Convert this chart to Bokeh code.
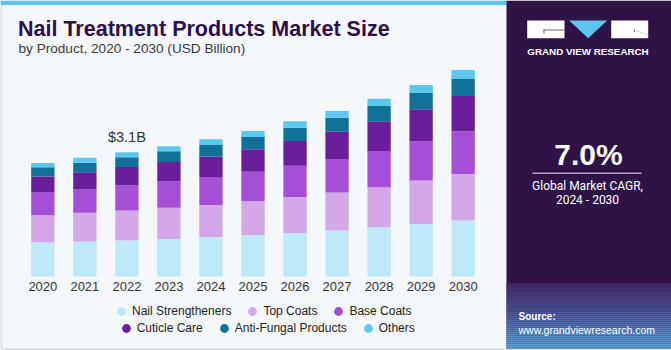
from bokeh.plotting import figure
from bokeh.models import (ColumnDataSource, Range1d, FixedTicker, BoxAnnotation, Label,
                          PolyAnnotation, Legend, LegendItem)
from bokeh.embed import file_html
from bokeh.resources import INLINE

# ---------------- data ----------------
years = [2020, 2021, 2022, 2023, 2024, 2025, 2026, 2027, 2028, 2029, 2030]
year_labels = [str(y) for y in years]
series_names = ["Nail Strengtheners", "Top Coats", "Base Coats",
                "Cuticle Care", "Anti-Fungal Products", "Others"]
nail_strengtheners = [0.85, 0.875, 0.90, 0.94, 0.99, 1.04, 1.09, 1.15, 1.23, 1.31, 1.40]
top_coats = [0.68, 0.72, 0.75, 0.78, 0.80, 0.84, 0.90, 0.95, 1.00, 1.09, 1.16]
base_coats = [0.57, 0.58, 0.63, 0.66, 0.70, 0.74, 0.78, 0.84, 0.91, 0.98, 1.07]
cuticle_care = [0.40, 0.43, 0.46, 0.48, 0.51, 0.56, 0.62, 0.68, 0.74, 0.80, 0.88]
anti_fungal = [0.23, 0.24, 0.24, 0.27, 0.29, 0.31, 0.33, 0.35, 0.38, 0.42, 0.44]
others = [0.11, 0.125, 0.125, 0.125, 0.14, 0.15, 0.16, 0.165, 0.185, 0.19, 0.21]
series_values = [nail_strengtheners, top_coats, base_coats, cuticle_care, anti_fungal, others]
colors = ["#bde9f9", "#d4a8e8", "#a44fd6", "#6a1e9c", "#117299", "#5bc8f0"]
highlight_year_index = 2

# ---------------- geometry helpers (pixel -> data) ----------------
W, H = 671, 350
PXU = 42.03     # pixels per year
PYU = 40.0      # pixels per USD billion
BASE = 276.0    # pixel row of the zero line
X0 = years[0] - 42.35 / PXU


def X(px):
    return X0 + px / PXU


def Y(py):
    return (BASE - py) / PYU


keys = ["s%d" % i for i in range(len(series_names))]
data = {"year": years}
cum = [0.0] * len(years)
for k, vals in zip(keys, series_values):
    data[k] = vals
    cum = [c + v for c, v in zip(cum, vals)]
    data[k + "_top"] = list(cum)
totals = cum
src = ColumnDataSource(data)

p = figure(width=W, height=H, x_range=Range1d(X(0), X(W)), y_range=Range1d(Y(H), Y(0)),
           output_backend="svg", toolbar_location=None, y_axis_location=None,
           min_border=0, min_border_left=0, min_border_right=0,
           min_border_top=0, min_border_bottom=0, outline_line_color=None,
           background_fill_color="#f4f7fb", border_fill_color="#f4f7fb")
p.grid.visible = False

# ---------------- background decorations ----------------
def box(l, r, t, b, color, alpha=1.0):
    p.add_layout(BoxAnnotation(left=X(l), right=X(r), top=Y(t), bottom=Y(b),
                               fill_color=color, fill_alpha=alpha, line_color=None))

box(0, 506, 0, 4.5, "#5cc3ea")           # top accent bar
box(0, 1.2, 4.5, 348, "#d3d8de")          # left border
box(0, 671, 348, 350, "#d9dde2")          # bottom border
box(506, 671, 0, 348, "#2f1346")          # right panel

# gradient at bottom of right panel
stops = [(283, (66, 44, 104)), (310, (76, 84, 150)), (348, (92, 172, 226))]
yy = 283
while yy < 348:
    for (a, ca), (b, cb) in zip(stops[:-1], stops[1:]):
        if a <= yy < b:
            t = (yy - a) / (b - a)
            c = tuple(int(round(ca[i] + (cb[i] - ca[i]) * t)) for i in range(3))
    box(506, 671, yy, min(yy + 2, 348), "#%02x%02x%02x" % c)
    yy += 2

# logo
box(526.7, 564, 20, 37.7, "#ffffff")
box(610.7, 647.7, 20, 37.7, "#ffffff")
p.add_layout(PolyAnnotation(xs=[X(568.7), X(606.7), X(587.7)], ys=[Y(20), Y(20), Y(37.7)],
                            fill_color="#5bc4ef", fill_alpha=1, line_color=None))
box(543, 564, 29, 30, "#6b6b6b")
box(543, 544, 29, 33, "#6b6b6b")
box(633.5, 634.5, 29, 31.5, "#6b6b6b")
p.add_layout(PolyAnnotation(xs=[X(634), X(647.7)], ys=[Y(29.5), Y(34.5)],
                            fill_alpha=0, line_color="#6b6b6b", line_width=1))
box(532, 641, 172, 173.5, "#b7a0d4")      # CAGR rule

# ---------------- bars ----------------
p.vbar_stack(keys, x="year", width=0.555, source=src, fill_color=colors, line_color=None)

legend_renderers = []
for k, c in zip(keys, colors):
    r = p.scatter(x="year", y=k + "_top", source=src, size=0, marker="circle",
                  fill_color=c, line_color=None)
    legend_renderers.append(r)

# axis at zero line
ax = p.xaxis[0]
ax.fixed_location = 0
ax.ticker = FixedTicker(ticks=years)
ax.major_label_overrides = {y: lbl for y, lbl in zip(years, year_labels)}
ax.axis_line_color = None
ax.major_tick_line_color = None
ax.minor_tick_line_color = None
ax.major_tick_out = 0
ax.major_tick_in = 0
ax.major_label_standoff = 5
ax.major_label_text_font = "Liberation Sans"
ax.major_label_text_font_size = "13px"
ax.major_label_text_color = "#333333"

# value label
hi = highlight_year_index
p.add_layout(Label(x=years[hi], y=totals[hi] + 15.3 / PYU, text="$%.1fB" % totals[hi],
                   text_align="center", text_baseline="middle",
                   text_font="Liberation Sans", text_font_size="14.5px", text_color="#333333"))

# ---------------- texts ----------------
def label(px, py, text, size, color, bold=False, align="left", font="Liberation Sans"):
    p.add_layout(Label(x=X(px), y=Y(py), text=text, text_align=align,
                       text_baseline="middle", text_font=font,
                       text_font_size=size, text_color=color,
                       text_font_style="bold" if bold else "normal"))

label(17.5, 28.7, "Nail Treatment Products Market Size", "21.5px", "#2d0f4b", bold=True)
label(18, 47.8, "by Product, 2020 - 2030 (USD Billion)", "13.6px", "#3a3a3a")
label(587.5, 51.2, "GRAND VIEW RESEARCH", "9.8px", "#ffffff", bold=True, align="center")
label(588, 154.2, "7.0%", "30px", "#ffffff", bold=True, align="center")
label(587, 185.7, "Global Market CAGR,", "12px", "#ffffff", align="center", font="Roboto")
label(587, 199.9, "2024 - 2030", "12px", "#ffffff", align="center", font="Roboto")
label(518, 315.7, "Source:", "10px", "#ffffff", bold=True)
label(518, 329.8, "www.grandviewresearch.com", "10.5px", "#ffffff")

# ---------------- legend ----------------
def make_legend(idx, loc):
    lg = Legend(items=[LegendItem(label=series_names[i], renderers=[legend_renderers[i]])
                       for i in idx],
                orientation="horizontal", location=loc,
                glyph_width=22, glyph_height=22, label_height=22, label_standoff=0,
                spacing=10, padding=0, margin=0, border_line_color=None,
                background_fill_alpha=0, label_text_font="Liberation Sans",
                label_text_font_size="12px", label_text_color="#222222")
    p.add_layout(lg, "center")

make_legend([0, 1, 2], (110, H - 322))
make_legend([3, 4, 5], (114.7, H - 339.3))

open("out.html", "w").write(file_html(p, INLINE))
